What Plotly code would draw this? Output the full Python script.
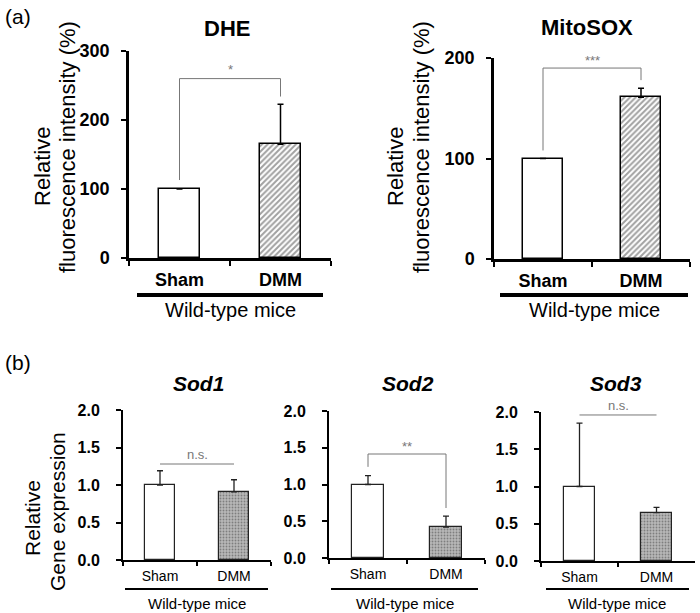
import plotly.graph_objects as go

W, H = 700, 613

groups = ["Sham", "DMM"]

dhe_mean = [100, 165]
dhe_err = [0, 58]
dhe_bracket = [113, 260, 234]      # left leg bottom, bracket top, right leg bottom
dhe_sig = "*"

mitosox_mean = [100, 161]
mitosox_err = [0, 9]
mitosox_bracket = [108, 190, 178]
mitosox_sig = "***"

sod1_mean = [1.0, 0.91]
sod1_err = [0.19, 0.16]
sod1_line = 1.28
sod1_sig = "n.s."

sod2_mean = [1.0, 0.42]
sod2_err = [0.12, 0.15]
sod2_bracket = [1.24, 1.415, 0.68]
sod2_sig = "**"

sod3_mean = [1.0, 0.65]
sod3_err = [0.85, 0.07]
sod3_line = 1.96
sod3_sig = "n.s."

top_ticks_dhe = [0, 100, 200, 300]
top_ticks_mito = [0, 100, 200]
bottom_ticks = [0.0, 0.5, 1.0, 1.5, 2.0]

FONT = "Liberation Sans, Arial, sans-serif"


def px(x):
    return x / W


def py(y):
    return 1 - y / H


fig = go.Figure()

panels = [
    ("", (129, 331), (258, 51), [0, 300]),
    ("2", (494, 690), (259, 58), [0, 200]),
    ("3", (123, 271), (560, 410), [0, 2]),
    ("4", (329, 485), (558, 411), [0, 2]),
    ("5", (541, 695), (561, 412), [0, 2]),
]

data = [
    (dhe_mean, dhe_err, "top"),
    (mitosox_mean, mitosox_err, "top"),
    (sod1_mean, sod1_err, "bottom"),
    (sod2_mean, sod2_err, "bottom"),
    (sod3_mean, sod3_err, "bottom"),
]

for (suf, xd, yd, rng), (mean, err, kind) in zip(panels, data):
    xa = "x" + suf
    ya = "y" + suf
    if kind == "top":
        fig.add_trace(go.Bar(
            x=groups, y=mean, width=0.4, xaxis=xa, yaxis=ya,
            marker=dict(
                color=["white", "white"],
                line=dict(color="black", width=1.5),
                pattern=dict(shape=["", "/"], fgcolor="#111111", bgcolor="white",
                             size=4, solidity=0.5),
            ),
            error_y=dict(type="data", symmetric=False, array=err,
                         arrayminus=[0, 0], color="black", thickness=1.5, width=3,
                         visible=True),
            showlegend=False,
        ))
    else:
        fig.add_trace(go.Bar(
            x=groups, y=mean, width=0.4, xaxis=xa, yaxis=ya,
            marker=dict(
                color=["white", "#b8b8b8"],
                line=dict(color="#222222", width=1.2),
                pattern=dict(shape=["", "."], fgcolor="#9a9a9a", size=3, solidity=0.3),
            ),
            error_y=dict(type="data", symmetric=False, array=err,
                         arrayminus=[0, 0], color="#222222", thickness=1.3, width=3,
                         visible=True),
            showlegend=False,
        ))

    is_top = kind == "top"
    xkey = "xaxis" + suf
    ykey = "yaxis" + suf
    fig.update_layout(**{
        xkey: dict(
            domain=[px(xd[0]), px(xd[1])],
            anchor=ya,
            type="category",
            categoryorder="array",
            categoryarray=groups,
            range=[-0.5, 1.5],
            tickson="boundaries",
            ticks="outside",
            ticklen=5 if is_top else 4,
            tickwidth=2,
            tickcolor="black",
            showline=True,
            linecolor="black",
            linewidth=2.5 if is_top else 2,
            showgrid=False,
            zeroline=False,
            automargin=False,
            tickfont=dict(family=FONT, size=18 if is_top else 14,
                          color="black", weight="bold" if is_top else "normal"),
            ticklabelstandoff=4 if is_top else 2,
            fixedrange=True,
        ),
        ykey: dict(
            domain=[py(yd[0]), py(yd[1])],
            anchor=xa,
            range=rng,
            tickvals=(top_ticks_dhe if suf == "" else top_ticks_mito) if is_top else bottom_ticks,
            tickformat=".0f" if is_top else ".1f",
            ticks="outside",
            ticklen=5,
            tickwidth=2,
            tickcolor="black",
            showline=True,
            linecolor="black",
            linewidth=2.5 if is_top else 2,
            showgrid=False,
            zeroline=False,
            automargin=False,
            tickfont=dict(family=FONT, size=18 if is_top else 16,
                          color="black", weight="bold"),
            ticklabelstandoff=8 if is_top else 13,
            fixedrange=True,
        ),
    })

GRAY = "#777777"


def bracket(xa, ya, b):
    fig.add_shape(type="path", xref=xa, yref=ya,
                  path=f"M 0,{b[0]} L 0,{b[1]} L 1,{b[1]} L 1,{b[2]}",
                  line=dict(color=GRAY, width=1))


def sig_text(xa, ya, yv, text, yshift):
    fig.add_annotation(x=0.5, y=yv, xref=xa, yref=ya, text=text, showarrow=False,
                       xanchor="center", yanchor="bottom", yshift=yshift,
                       font=dict(family=FONT, size=13, color=GRAY))


bracket("x", "y", dhe_bracket)
sig_text("x", "y", dhe_bracket[1], dhe_sig, 0)
bracket("x2", "y2", mitosox_bracket)
sig_text("x2", "y2", mitosox_bracket[1], mitosox_sig, -2)
bracket("x4", "y4", sod2_bracket)
sig_text("x4", "y4", sod2_bracket[1], sod2_sig, -2)

for xa, ya, yv, s in [("x3", "y3", sod1_line, sod1_sig), ("x5", "y5", sod3_line, sod3_sig)]:
    fig.add_shape(type="line", xref=xa, yref=ya, x0=0, x1=1, y0=yv, y1=yv,
                  line=dict(color=GRAY, width=1))
    sig_text(xa, ya, yv, s, 0)


def label(text, xt, yt, size, angle=0, xanchor="center", weight="normal", style="normal"):
    fig.add_annotation(x=px(xt), y=py(yt), xref="paper", yref="paper",
                       text=text, showarrow=False, textangle=angle,
                       xanchor=xanchor, yanchor="middle",
                       font=dict(family=FONT, size=size, color="black",
                                 weight=weight, style=style))


underlines = [
    (137, 323, 295, 4, 230, 310, 20),
    (500, 688, 295, 4, 594, 310, 20),
    (125, 268, 589, 2, 197, 603, 15),
    (331, 478, 589, 2, 405, 603, 15),
    (546, 689, 589, 2, 617, 603, 15),
]
for x0, x1, yl, lw, xt, yt, fs in underlines:
    fig.add_shape(type="line", xref="paper", yref="paper",
                  x0=px(x0), x1=px(x1), y0=py(yl), y1=py(yl),
                  line=dict(color="black", width=lw))
    label("Wild-type mice", xt, yt, fs)

label("DHE", 227, 28, 22, weight="bold")
label("MitoSOX", 587, 27, 22, weight="bold")
label("Sod1", 198, 384, 21, weight="bold", style="italic")
label("Sod2", 408, 384, 21, weight="bold", style="italic")
label("Sod3", 616, 384, 21, weight="bold", style="italic")

label("(a)", 3, 16, 21, xanchor="left")
label("(b)", 3, 362, 21, xanchor="left")

label("Relative", 42, 167, 22, angle=-90)
label("fluorescence intensity (%)", 68, 147, 22, angle=-90)
label("Relative", 395, 167, 22, angle=-90)
label("fluorescence intensity (%)", 422, 147, 22, angle=-90)
label("Relative", 32, 518, 21, angle=-90)
label("Gene expression", 57, 512, 21, angle=-90)

fig.update_layout(
    width=W, height=H, autosize=False,
    margin=dict(l=0, r=0, t=0, b=0, autoexpand=False),
    paper_bgcolor="white", plot_bgcolor="white",
    barmode="overlay",
    bargap=0,
)

fig.write_html("out.html", config={"displayModeBar": False},
               post_script="document.body.style.margin='0';")
